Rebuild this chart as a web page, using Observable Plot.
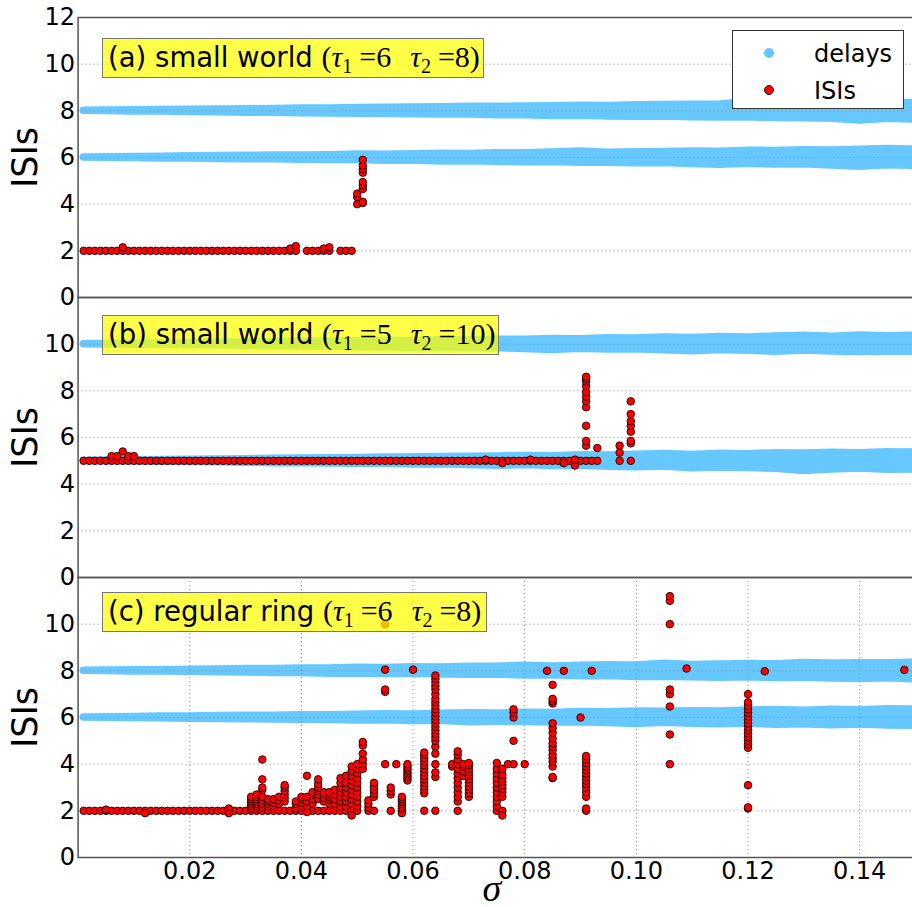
<!DOCTYPE html>
<html><head><meta charset="utf-8">
<script src="https://cdn.jsdelivr.net/npm/d3@7"></script>
<script src="https://cdn.jsdelivr.net/npm/@observablehq/plot@0.6"></script>
<style>
html,body{margin:0;padding:0;background:#fff;overflow:hidden;}
#wrap{position:relative;width:912px;height:907px;font-family:"DejaVu Sans";color:#000;}
.panel{position:absolute;left:0;}
.note{position:absolute;box-sizing:border-box;height:40px;border:1.5px solid #777;background:rgba(255,255,0,0.72);font-family:"DejaVu Sans";font-size:27.5px;line-height:35px;padding-left:5px;white-space:nowrap;}
.math{font-family:"Liberation Serif";font-size:30px;}
.math sub{font-size:20px;vertical-align:-6px;line-height:0;}
.math .gap{display:inline-block;width:19px;}
.math .sp{display:inline-block;width:7px;}
#legend{position:absolute;left:732px;top:30px;width:172px;height:79px;box-sizing:border-box;border:1.2px solid #333;background:#fff;}
#legend .dot{position:absolute;width:10px;height:10px;border-radius:50%;}
#legend .lab{position:absolute;left:81px;font-size:24px;line-height:30px;}
</style></head><body><div id="wrap"></div><script>
// ---------- data ----------
const sigmaTicks = [0.02, 0.04, 0.06, 0.08, 0.10, 0.12, 0.14];
const yTicksTop = [0, 2, 4, 6, 8, 10, 12];
const yTicks = [0, 2, 4, 6, 8, 10];
const delaysA = [6, 8];
const delaysB = [5, 10];
const delaysC = [6, 8];
const panelLabels = ["(a) small world ", "(b) small world ", "(c) regular ring "];
const panelTaus = [[6, 8], [5, 10], [6, 8]];
const legendLabels = ["delays", "ISIs"];

// sigma positions at which the spread of the delay bands was read
const bandSigma = [0.001,0.005,0.010,0.015,0.020,0.025,0.030,0.035,0.040,0.045,0.050,0.055,0.060,0.065,0.070,0.075,0.080,0.085,0.090,0.095,0.100,0.105,0.110,0.115,0.120,0.125,0.130,0.135,0.140,0.145,0.150];
// upper / lower extent of each delay band (offset from the delay value)
const bandA8hi = [0.00,0.01,0.02,0.04,0.05,0.06,0.07,0.08,0.10,0.10,0.12,0.13,0.14,0.15,0.17,0.17,0.19,0.20,0.22,0.21,0.24,0.25,0.26,0.27,0.38,0.28,0.30,0.32,0.30,0.33,0.34];
const bandA8lo = [0.00,0.01,0.03,0.03,0.05,0.06,0.08,0.08,0.10,0.11,0.12,0.14,0.15,0.16,0.16,0.19,0.19,0.22,0.21,0.24,0.25,0.24,0.28,0.29,0.28,0.31,0.32,0.34,0.42,0.34,0.37];
const bandA6hi = [0.00,0.01,0.02,0.03,0.05,0.06,0.07,0.09,0.09,0.10,0.13,0.12,0.14,0.16,0.15,0.18,0.18,0.21,0.26,0.20,0.23,0.24,0.26,0.25,0.29,0.28,0.31,0.30,0.33,0.36,0.34];
const bandA6lo = [0.00,0.01,0.02,0.04,0.04,0.06,0.08,0.08,0.10,0.11,0.11,0.14,0.13,0.17,0.16,0.18,0.20,0.19,0.23,0.22,0.25,0.24,0.28,0.31,0.27,0.30,0.29,0.34,0.40,0.33,0.36];
const bandB10hi = [0.00,0.01,0.02,0.04,0.05,0.06,0.07,0.08,0.10,0.11,0.12,0.15,0.14,0.17,0.16,0.19,0.19,0.22,0.21,0.25,0.24,0.29,0.26,0.31,0.29,0.33,0.36,0.32,0.37,0.34,0.36];
const bandB10lo = [0.00,0.01,0.02,0.03,0.05,0.06,0.07,0.09,0.10,0.10,0.13,0.12,0.16,0.15,0.18,0.17,0.21,0.25,0.20,0.23,0.22,0.26,0.30,0.25,0.28,0.32,0.27,0.31,0.34,0.32,0.33];
const bandB5hi = [0.00,0.01,0.02,0.04,0.05,0.06,0.07,0.09,0.10,0.11,0.12,0.14,0.15,0.16,0.18,0.19,0.21,0.20,0.24,0.23,0.26,0.29,0.25,0.30,0.28,0.33,0.31,0.35,0.32,0.37,0.36];
const bandB5lo = [0.00,0.01,0.02,0.04,0.05,0.06,0.08,0.10,0.09,0.11,0.13,0.12,0.16,0.15,0.18,0.21,0.18,0.22,0.21,0.25,0.27,0.24,0.32,0.29,0.31,0.34,0.44,0.37,0.33,0.38,0.37];
const bandC8hi = [0.00,0.01,0.02,0.03,0.05,0.06,0.08,0.08,0.10,0.10,0.13,0.12,0.15,0.14,0.17,0.18,0.22,0.19,0.22,0.24,0.23,0.30,0.25,0.27,0.29,0.28,0.34,0.31,0.33,0.32,0.35];
const bandC8lo = [0.00,0.01,0.03,0.03,0.04,0.06,0.07,0.09,0.09,0.12,0.11,0.14,0.13,0.16,0.17,0.16,0.20,0.19,0.23,0.22,0.26,0.25,0.27,0.30,0.27,0.31,0.30,0.33,0.35,0.32,0.36];
const bandC6hi = [0.00,0.01,0.02,0.04,0.04,0.06,0.07,0.08,0.10,0.10,0.12,0.14,0.13,0.16,0.18,0.17,0.20,0.19,0.24,0.22,0.26,0.25,0.27,0.26,0.30,0.32,0.29,0.33,0.31,0.35,0.34];
const bandC6lo = [0.00,0.01,0.02,0.03,0.05,0.06,0.07,0.09,0.10,0.11,0.13,0.12,0.15,0.14,0.20,0.17,0.19,0.21,0.20,0.24,0.28,0.23,0.27,0.29,0.26,0.31,0.29,0.33,0.30,0.34,0.35];

// ISIs, panel (a): sigmas with ISI = 2, plus other points [sigma, [ISIs]]
const isiA_at2 = [0.001,0.002,0.003,0.004,0.005,0.006,0.007,0.008,0.009,0.010,0.011,0.012,0.013,0.014,0.015,0.016,0.017,0.018,0.019,0.020,0.021,0.022,0.023,0.024,0.025,0.026,0.027,0.028,0.029,0.030,0.031,0.032,0.033,0.034,0.035,0.036,0.037,0.038,0.039,0.041,0.042,0.043,0.044,0.045,0.047,0.048,0.049];
const isiA_other = [[0.008,[2.15]],[0.038,[2.1]],[0.039,[2.2]],[0.044,[2.1]],[0.045,[2.15]],
  [0.050,[4.0,4.3,4.45]],[0.051,[4.05,4.1,4.65,4.8,4.95,5.35,5.5,5.65,5.9]]];

// ISIs, panel (b): sigmas with ISI = 5, plus other points
const isiB_at5 = [0.001,0.002,0.003,0.004,0.005,0.006,0.007,0.008,0.009,0.010,0.011,0.012,0.013,0.014,0.015,0.016,0.017,0.018,0.019,0.020,0.021,0.022,0.023,0.024,0.025,0.026,0.027,0.028,0.029,0.030,0.031,0.032,0.033,0.034,0.035,0.036,0.037,0.038,0.039,0.040,0.041,0.042,0.043,0.044,0.045,0.046,0.047,0.048,0.049,0.050,0.051,0.052,0.053,0.054,0.055,0.056,0.057,0.058,0.059,0.060,0.061,0.062,0.063,0.064,0.065,0.066,0.067,0.068,0.069,0.070,0.071,0.072,0.073,0.074,0.075,0.076,0.077,0.078,0.079,0.080,0.081,0.082,0.083,0.084,0.085,0.086,0.087,0.088,0.089,0.090,0.091,0.092,0.093,0.097,0.099];
const isiB_other = [[0.006,[5.2]],[0.007,[5.2]],[0.008,[5.4]],[0.009,[5.2]],[0.010,[5.2]],
  [0.073,[5.05]],[0.076,[4.9]],[0.081,[5.05]],[0.087,[4.9]],[0.089,[4.8,5.05]],
  [0.091,[5.65,5.85,6.5,7.3,7.55,7.75,7.95,8.2,8.4,8.5,8.6]],
  [0.093,[5.55]],[0.097,[5.35,5.65]],[0.099,[5.75,5.85,6.25,6.5,6.7,7.0,7.55]]];

// ISIs, panel (c): sigmas with ISI = 2, plus other points
const isiC_at2 = [0.001,0.002,0.003,0.004,0.005,0.006,0.007,0.008,0.009,0.010,0.011,0.012,0.013,0.014,0.015,0.016,0.017,0.018,0.019,0.020,0.021,0.022,0.023,0.024,0.025,0.026,0.027,0.028,0.029,0.030,0.031,0.032,0.033,0.034,0.035,0.036,0.037,0.038,0.039,0.040,0.041,0.042,0.043,0.044,0.045,0.046,0.047,0.048,0.049,0.050,0.052,0.053,0.056,0.058,0.062,0.064,0.068,0.075,0.076,0.091];
const isiC_other = [[0.005,[2.05]],[0.012,[1.9]],[0.027,[2.1,1.9]],
  [0.031,[2.1,2.2,2.3,2.4,2.5,2.6]],
  [0.032,[2.1,2.2,2.3,2.4,2.5,2.6,2.7]],
  [0.033,[2.15,2.3,2.45,2.6,2.9,3.0,3.35,4.2]],
  [0.034,[2.2,2.3,2.4,2.5]],
  [0.035,[2.2,2.35,2.5]],
  [0.036,[2.3,2.45,2.6]],
  [0.037,[2.4,2.55,2.7,2.85,3.0,3.1]],
  [0.039,[2.1,2.3,2.4]],
  [0.040,[2.2,2.35,2.5,2.6]],
  [0.041,[1.95,2.2,2.4,2.6,3.5]],
  [0.042,[2.3,2.5,2.7,2.8]],
  [0.043,[2.5,2.7,2.85,3.0,3.15,3.35]],
  [0.044,[2.4,2.55,2.7,2.8]],
  [0.045,[2.3,2.5,2.6,2.7,2.8]],
  [0.046,[2.3,2.5,2.7,2.9]],
  [0.047,[2.2,2.4,2.6,2.8,3.0,3.2,3.4]],
  [0.048,[2.2,2.4,2.6,2.8,3.0,3.2,3.5]],
  [0.049,[1.8,2.3,2.5,2.7,2.9,3.1,3.3,3.5,3.7,3.9]],
  [0.050,[2.2,2.4,2.6,2.8,3.0,3.2,3.4,3.6,3.8,4.0]],
  [0.051,[3.8,4.0,4.2,4.45,4.8,4.95]],
  [0.052,[2.15,2.3,2.45]],
  [0.053,[2.6,2.75,2.9,3.05,3.2]],
  [0.055,[4.0,7.1,7.2,8.05,10.0]],
  [0.056,[2.7,2.85,3.0]],
  [0.057,[4.0]],
  [0.058,[1.9,2.1,2.2,2.3,2.4,2.5,2.6]],
  [0.059,[3.3,3.4,3.5,3.6,3.7,3.8,3.9,4.0]],
  [0.060,[8.05]],
  [0.062,[2.75,2.9,3.05,3.2,3.35,3.5,3.65,3.8,3.95,4.1,4.25,4.4,4.5]],
  [0.064,[3.45,3.65,4.0,4.45,4.75,5.0,5.15,5.3,5.45,5.6,5.75,5.9,6.05,6.2,6.35,6.5,6.65,6.8,7.0,7.2,7.35,7.5,7.65,7.8]],
  [0.067,[3.9,4.0]],
  [0.068,[2.4,2.6,2.8,3.0,3.2,3.4,3.6,3.8,4.0,4.2,4.4,4.55]],
  [0.069,[3.5,3.7,3.9,4.0]],
  [0.070,[2.6,2.75,2.9,3.05,3.2,3.35,3.5,3.65,3.8,3.95,4.05]],
  [0.075,[2.2,2.4,2.6,2.8,3.0,3.2,3.4,3.6,3.8,4.05]],
  [0.076,[1.8,2.6,2.8,2.95,3.1,3.25,3.4,3.55,3.8]],
  [0.077,[4.0]],
  [0.078,[4.0,5.0,6.0,6.2,6.35]],
  [0.080,[4.0]],
  [0.084,[8.0]],
  [0.085,[3.4,3.45,3.9,4.1,4.25,4.4,4.6,4.75,4.9,5.1,5.35,5.55,5.75,6.6,6.7,6.8,7.4]],
  [0.087,[8.0]],
  [0.090,[6.0]],
  [0.091,[2.1,2.6,2.8,3.0,3.15,3.3,3.45,3.6,3.75,3.9,4.05,4.2,4.35]],
  [0.092,[8.0]],
  [0.106,[4.0,5.27,6.47,7.0,7.2,10.0,11.0,11.2]],
  [0.109,[8.1]],
  [0.120,[2.1,2.15,3.1,4.7,4.85,5.0,5.15,5.3,5.45,5.6,5.75,5.9,6.05,6.2,6.35,6.5,6.65,7.0]],
  [0.123,[7.98]],
  [0.148,[8.04]]];

// ---------- build tables ----------
const band = (delay, hi, lo) => bandSigma.map((s, i) => ({sigma: s, y1: delay - lo[i], y2: delay + hi[i]}));
const isiRows = (base, baseVal, other) => {
  const rows = base.map(s => ({sigma: s, isi: baseVal}));
  other.forEach(([s, vals]) => vals.forEach(v => rows.push({sigma: s, isi: v})));
  return rows;
};
const BLUE = "#66c8ff";
const panels = [
  {bands: [band(delaysA[0], bandA6hi, bandA6lo), band(delaysA[1], bandA8hi, bandA8lo)], isi: isiRows(isiA_at2, 2, isiA_other), ticks: yTicksTop, top: 0, mt: 17, mb: 0, xaxis: false},
  {bands: [band(delaysB[0], bandB5hi, bandB5lo), band(delaysB[1], bandB10hi, bandB10lo)], isi: isiRows(isiB_at5, 5, isiB_other), ticks: yTicks, top: 297, mt: 0, mb: 0, xaxis: false},
  {bands: [band(delaysC[0], bandC6hi, bandC6lo), band(delaysC[1], bandC8hi, bandC8lo)], isi: isiRows(isiC_at2, 2, isiC_other), ticks: yTicks, top: 577, mt: 0, mb: 50, xaxis: true}
];

const wrap = document.getElementById("wrap");
panels.forEach((p, k) => {
  const marks = [];
  p.bands.forEach(b => marks.push(Plot.areaY(b, {x: "sigma", y1: "y1", y2: "y2", fill: BLUE, stroke: BLUE, strokeWidth: 7.5, strokeLinejoin: "round"})));
  marks.push(Plot.gridY({ticks: [2, 4, 6, 8, 10], stroke: "#8a8a8a", strokeOpacity: 1, strokeWidth: 1, strokeDasharray: "1,3"}));
  if (p.xaxis) marks.push(Plot.gridX({ticks: sigmaTicks, stroke: "#8a8a8a", strokeOpacity: 1, strokeWidth: 1, strokeDasharray: "1,3"}));
  marks.push(Plot.dot(p.isi, {x: "sigma", y: "isi", r: 3.8, fill: "#ff0000", stroke: "#000", strokeWidth: 0.8}));
  marks.push(Plot.frame({stroke: "#555", strokeWidth: 1.5}));
  marks.push(Plot.axisY({ticks: p.ticks, tickSize: 0, tickPadding: 3, fontSize: 24, label: null, tickFormat: d => String(d)}));
  marks.push(Plot.text(["ISIs"], {text: d => d, frameAnchor: "left", rotate: -90, dx: -52, fontSize: 35, lineAnchor: "middle", textAnchor: "middle"}));
  if (p.xaxis) {
    marks.push(Plot.axisX({ticks: sigmaTicks, tickSize: 0, tickPadding: 4, fontSize: 24, label: null, tickFormat: d3.format(".2f")}));
    marks.push(Plot.text(["σ"], {text: d => d, frameAnchor: "bottom", dx: -5, dy: 31, fontSize: 38, fontFamily: "Liberation Serif", fontStyle: "italic", lineAnchor: "middle"}));
  }
  const svg = Plot.plot({
    width: 912, height: 280 + p.mt + p.mb,
    marginLeft: 77.6, marginRight: -3, marginTop: p.mt, marginBottom: p.mb,
    style: {fontFamily: "DejaVu Sans", background: "transparent", overflow: "visible", color: "#000"},
    x: {domain: [0, 0.15], axis: p.xaxis ? undefined : null},
    y: {domain: [0, 12]},
    marks
  });
  svg.classList.add("panel");
  svg.style.top = p.top + "px";
  wrap.appendChild(svg);
});

// annotation boxes (drawn over the data, translucent)
const noteGeom = [{left: 102, top: 38, width: 382}, {left: 102, top: 315, width: 397}, {left: 102, top: 592, width: 385}];
noteGeom.forEach((g, k) => {
  const d = document.createElement("div");
  d.className = "note";
  d.style.left = g.left + "px"; d.style.top = g.top + "px"; d.style.width = g.width + "px";
  const [t1, t2] = panelTaus[k];
  d.innerHTML = panelLabels[k] + `<span class="math">(<i>τ</i><sub>1</sub><span class="sp"></span>=${t1}<span class="gap"></span><i>τ</i><sub>2</sub><span class="sp"></span>=${t2})</span>`;
  wrap.appendChild(d);
});

// legend
const lg = document.createElement("div");
lg.id = "legend";
lg.innerHTML = `<span class="dot" style="left:30.7px;top:16.7px;background:${BLUE}"></span>
<span class="lab" style="top:8px">${legendLabels[0]}</span>
<span class="dot" style="left:30.7px;top:54.3px;background:#ff0000;box-sizing:border-box;border:0.6px solid #400"></span>
<span class="lab" style="top:45px">${legendLabels[1]}</span>`;
wrap.appendChild(lg);
</script></body></html>
